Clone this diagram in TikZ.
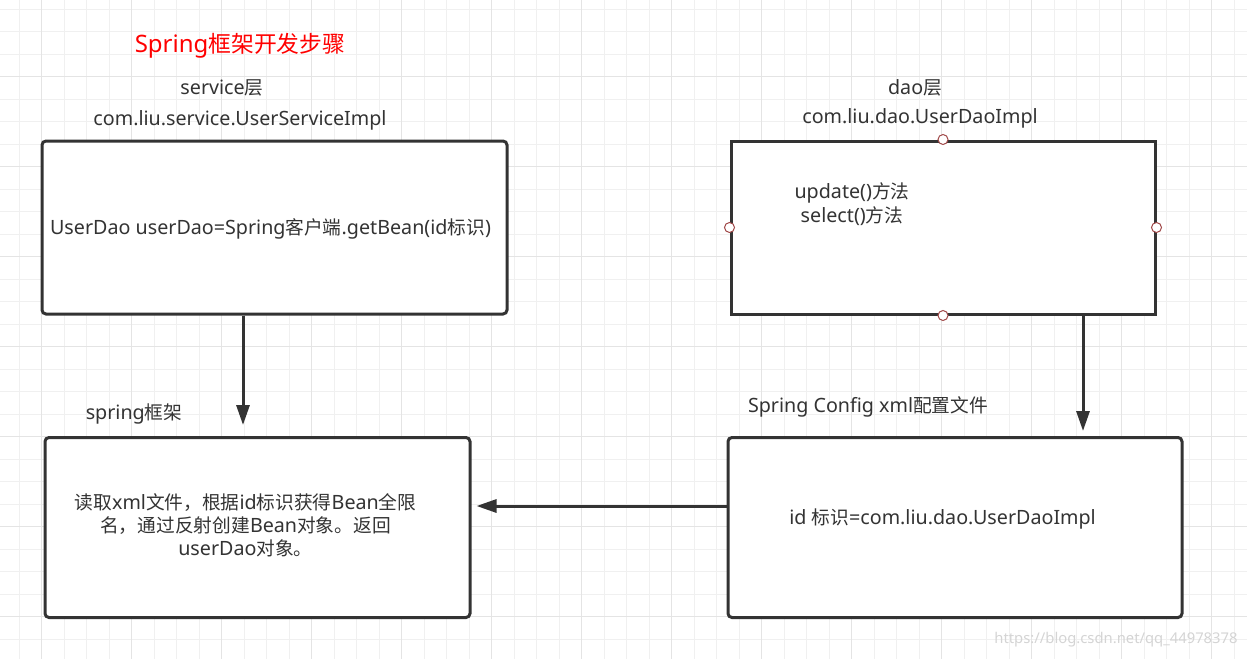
\documentclass[tikz,border=0pt]{standalone}
\usepackage{fontspec}
\setmainfont{Noto Sans}
\newfontfamily\cjk[Scale=0.95]{Noto Sans CJK SC}
\usetikzlibrary{arrows.meta}
\definecolor{ink}{HTML}{333333}
\definecolor{gridminor}{HTML}{F0F0F0}
\definecolor{gridmajor}{HTML}{E4E4E4}
\definecolor{portred}{HTML}{A04848}
\definecolor{markgray}{HTML}{D4D4D4}
\newcommand\zh[1]{{\cjk #1}}
\tikzset{
  box/.style={draw=ink, line width=3pt, rounded corners=4pt, fill=white, inner sep=0pt},
  txt/.style={text=ink, font=\fontsize{19.7}{24}\selectfont, inner sep=0pt, align=center},
  port/.style={circle, draw=portred, fill=white, line width=1pt, minimum size=10pt, inner sep=0pt},
  arr/.style={draw=ink, line width=3pt, -{Triangle[length=20pt,width=13pt]}},
}
\begin{document}
\begin{tikzpicture}[x=1pt,y=-1pt]
\useasboundingbox (0,0) rectangle (1247,659);
\foreach \i in {0,...,54} \draw[gridminor, line width=1pt] (19.3+22.5*\i,0) -- ++(0,659);
\foreach \j in {0,...,28} \draw[gridminor, line width=1pt] (0,9.3+22.5*\j) -- ++(1247,0);
\foreach \i in {0,...,13} \draw[gridmajor, line width=1.5pt] (41.7+90*\i,0) -- ++(0,659);
\foreach \j in {0,...,6} \draw[gridmajor, line width=1.5pt] (0,76.7+90*\j) -- ++(1247,0);

\node[txt, text=red, font=\fontsize{24}{28}\selectfont] (title) at (240,46) {Spring\zh{框架开发步骤}};
\node[txt] (servlbl) at (222,88) {service\zh{层}};
\node[txt] (servcls) at (240,120) {com.liu.service.UserServiceImpl};
\node[box, minimum width=465pt, minimum height=173pt] (service) at (274.5,227.5) {};
\node[txt] (servtxt) at (270.5,229) {UserDao userDao=Spring\zh{客户端}.getBean(id\zh{标识})};

\node[txt] (daolbl) at (915,88) {dao\zh{层}};
\node[txt] (daocls) at (920,118) {com.liu.dao.UserDaoImpl};
\node[box, sharp corners, minimum width=424pt, minimum height=173pt] (dao) at (943,227.5) {};
\foreach \a in {north,west,east,south} \node[port] (port-\a) at (dao.\a) {};
\node[txt] (daotxt) at (852,204) {update()\zh{方法}\\select()\zh{方法}};

\node[txt] (framelbl) at (134,414) {spring\zh{框架}};
\node[box, minimum width=425pt, minimum height=180pt] (frame) at (257.5,527.5) {};
\node[txt, font=\fontsize{19.7}{23}\selectfont] (frametxt) at (245.5,525) {\zh{读取}xml\zh{文件，根据}id\zh{标识获得}Bean\zh{全限}\\\zh{名，通过反射创建}Bean\zh{对象。返回}\\userDao\zh{对象。}};

\node[txt] (cfglbl) at (868,407) {Spring Config xml\zh{配置文件}};
\node[box, minimum width=454pt, minimum height=180pt] (config) at (955,527.5) {};
\node[txt] (cfgtxt) at (942.6,519) {id \zh{标识}=com.liu.dao.UserDaoImpl};

\coordinate (c1) at (243,0);
\coordinate (c2) at (1083,0);
\coordinate (c3) at (0,506);
\draw[arr, shorten >=11pt] (service.south -| c1) -- (frame.north -| c1);
\draw[arr, shorten >=5pt] (dao.south -| c2) -- (config.north -| c2);
\draw[arr, shorten >=5pt] (config.west |- c3) -- (frame.east |- c3);

\node[txt, text=markgray, font=\fontsize{14.8}{18}\selectfont] (mark) at (1116,640) {https://blog.csdn.net/qq\_44978378};
\end{tikzpicture}
\end{document}
